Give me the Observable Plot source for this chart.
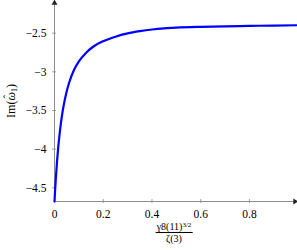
<!DOCTYPE html>
<html><head><meta charset="utf-8">
<script src="https://cdn.jsdelivr.net/npm/d3@7"></script>
<script src="https://cdn.jsdelivr.net/npm/@observablehq/plot@0.6"></script>
<style>
html,body{margin:0;padding:0;background:#fff;}
#wrap{position:relative;width:297px;height:250px;font-family:"Liberation Serif",serif;}
#frac{position:absolute;left:174px;top:222px;transform:translateX(-50%);display:flex;flex-direction:column;align-items:center;font-family:"Liberation Serif",serif;font-size:10px;line-height:9px;color:#000;}
#frac .num{border-bottom:0.7px solid #000;padding:0 1px 1px 1px;white-space:nowrap;}
#frac .num sup{font-size:7px;vertical-align:3px;line-height:0;}
#frac .den{padding-top:1px;white-space:nowrap;}
#ylab{position:absolute;left:11px;top:101px;transform:translate(-50%,-50%) rotate(-90deg);font-family:"Liberation Serif",serif;font-size:12px;line-height:12px;white-space:nowrap;color:#000;}
#ylab .hat{position:relative;font-style:italic;}
#ylab .hat::before{content:"\02C6";position:absolute;left:2px;top:-3px;font-style:normal;font-size:11px;}
#ylab sub{font-size:8px;vertical-align:-2px;line-height:0;}
</style></head>
<body><div id="wrap"></div>
<script>
const xs = [0, 0.002, 0.005, 0.01, 0.015, 0.02, 0.03, 0.04, 0.05, 0.06, 0.08, 0.1, 0.13, 0.16, 0.2, 0.25, 0.3, 0.35, 0.4, 0.45, 0.5, 0.6, 0.7, 0.8, 0.9, 0.993];
const ys = [-4.677, -4.56, -4.40, -4.175, -3.986, -3.83, -3.58, -3.395, -3.253, -3.141, -2.977, -2.865, -2.752, -2.672, -2.603, -2.545, -2.503, -2.474, -2.452, -2.437, -2.428, -2.418, -2.412, -2.406, -2.401, -2.397];
const xTicks = [0, 0.2, 0.4, 0.6, 0.8];
const yTicks = [-2.5, -3, -3.5, -4, -4.5];
const xDomain = [0, 0.993];
const yDomain = [-4.677, -2.09];
const yLabelParts = ["Im(", "ω", "1", ")"];
const xLabelNum = ["γ8(11)", "3/2"];
const xLabelDen = "ζ(3)";

const data = xs.map((x, i) => ({x, y: ys[i]}));
const fmt = d => String(d).replace("-", "\u2212");
const gray = "#8c8c8c";

const chart = Plot.plot({
  width: 297, height: 250,
  marginLeft: 54, marginRight: 1, marginTop: 1, marginBottom: 49,
  style: {fontFamily: "Liberation Serif, serif", fontSize: "11.5px", color: "#000", background: "#fff"},
  x: {domain: xDomain, axis: null},
  y: {domain: yDomain, axis: null},
  marks: [
    Plot.ruleX([xDomain[0]], {stroke: gray, strokeWidth: 1}),
    Plot.ruleY([yDomain[0]], {stroke: gray, strokeWidth: 1}),
    Plot.tickX(xTicks, {x: d => d, stroke: gray, insetTop: 198, strokeWidth: 0.8}),
    Plot.tickY(yTicks, {y: d => d, stroke: gray, insetRight: 240, strokeWidth: 0.8}),
    Plot.axisX(xTicks, {tickSize: 2, tickPadding: 6, stroke: gray, strokeWidth: 0.8, tickFormat: fmt, fill: "#000", label: null}),
    Plot.axisY(yTicks, {tickSize: 2, tickPadding: 6, stroke: gray, strokeWidth: 0.8, tickFormat: fmt, fill: "#000", label: null}),
    Plot.dot([yDomain[1]], {x: xDomain[0], y: d => d, symbol: "triangle", r: 2.2, fill: "#222", stroke: null, dy: 1.5}),
    Plot.dot([xDomain[1]], {x: d => d, y: yDomain[0], symbol: "triangle", r: 2.2, fill: "#222", stroke: null, rotate: 90, dx: -1.5}),
    Plot.line(data, {x: "x", y: "y", stroke: "#0000ff", strokeWidth: 2.2, curve: "monotone-x"})
  ]
});
const wrap = document.getElementById("wrap");
wrap.appendChild(chart);
const frac = document.createElement("div");
frac.id = "frac";
frac.innerHTML = `<span class="num">${xLabelNum[0]}<sup>${xLabelNum[1]}</sup></span><span class="den">${xLabelDen}</span>`;
wrap.appendChild(frac);
const ylab = document.createElement("div");
ylab.id = "ylab";
ylab.innerHTML = `${yLabelParts[0]}<span class="hat">${yLabelParts[1]}</span><sub>${yLabelParts[2]}</sub>${yLabelParts[3]}`;
wrap.appendChild(ylab);
</script></body></html>
